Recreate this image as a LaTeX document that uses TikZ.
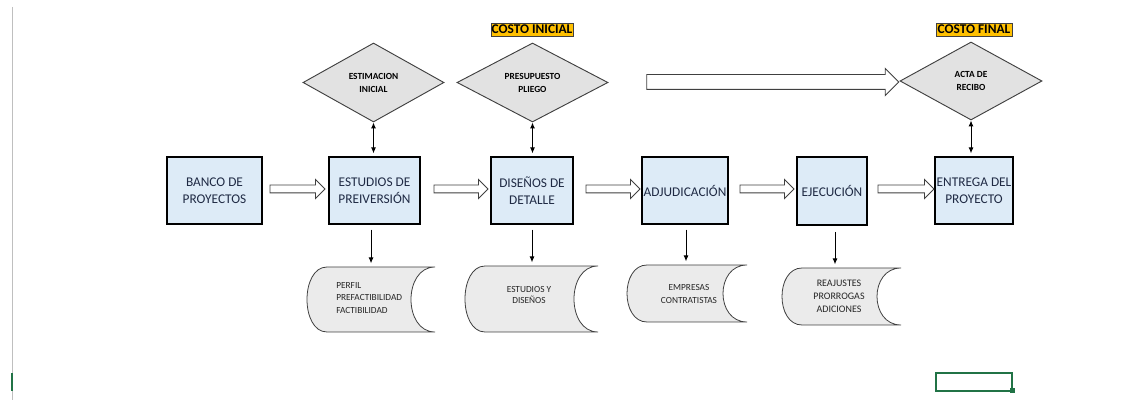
\documentclass[tikz,border=0pt]{standalone}
\usepackage{fontspec}
\setmainfont{Carlito}
\usetikzlibrary{shapes.geometric,shapes.arrows,arrows.meta}
\definecolor{boxfill}{HTML}{DDEBF7}
\definecolor{boxtext}{HTML}{1F2A44}
\definecolor{diafill}{HTML}{E2E2E2}
\definecolor{stdfill}{HTML}{EBEBEB}
\definecolor{costfill}{HTML}{FFC000}
\definecolor{excelgreen}{HTML}{217346}
\definecolor{edgegray}{HTML}{404040}
\newcommand{\stdata}[4]{%
  \draw[stdstyle] ({#1+20},#2) -- (#3,#2)
    .. controls ({#3-32},#2) and ({#3-32},#4) .. (#3,#4)
    -- ({#1+20},#4)
    .. controls ({#1-6.67},#4) and ({#1-6.67},#2) .. ({#1+20},#2) -- cycle;}
\begin{document}
\begin{tikzpicture}[x=0.75pt,y=-0.75pt,
  procbox/.style={draw=black, line width=1.4pt, fill=boxfill, text=boxtext,
    align=center, inner sep=1pt, font=\fontsize{10}{12.75}\selectfont, minimum height=50.25pt},
  decision/.style={diamond, draw=edgegray, line width=0.7pt, fill=diafill, inner sep=0pt,
    align=center, font=\bfseries\fontsize{7}{9.75}\selectfont, minimum height=59.25pt},
  costlabel/.style={draw=edgegray, line width=0.6pt, fill=costfill, inner sep=0pt,
    font=\bfseries\fontsize{10}{12}\selectfont, minimum height=9.75pt},
  blockarrow/.style={single arrow, draw=edgegray, line width=0.7pt, fill=white,
    inner xsep=0pt, inner ysep=2.625pt, single arrow head extend=4.125pt,
    single arrow head indent=0pt, minimum height=41.25pt},
  stdstyle/.style={draw=edgegray, line width=0.6pt, fill=stdfill},
  holder/.style={inner sep=0pt},
  stext/.style={inner sep=0pt, align=center, text=black!85, font=\fontsize{7}{9.5}\selectfont},
  thin arrow/.style={line width=0.75pt, -{Latex[length=4.5pt,width=3.8pt]}},
  both arrow/.style={line width=0.75pt, {Latex[length=4.5pt,width=3.8pt]}-{Latex[length=4.5pt,width=3.8pt]}}
]
\useasboundingbox (0,0) rectangle (1128,402);

% spreadsheet remnants
\draw[black!25, line width=1.1pt] (12.5,7) -- (12.5,400);
\fill[excelgreen] (10.8,373) rectangle (13.3,391);
\draw[excelgreen, line width=1.2pt] (936,373) rectangle (1012,391);
\fill[excelgreen] (1009.5,388.5) rectangle (1014.5,393.5);

% process boxes
\node[procbox, minimum width=71.25pt] (banco) at (214.5,190.5) {BANCO DE\\PROYECTOS};
\node[procbox, minimum width=68.25pt] (est) at (374.5,190.5) {ESTUDIOS DE\\PREIVERSIÓN};
\node[procbox, minimum width=61.5pt] (dis) at (532,190.5) {DISEÑOS DE\\DETALLE};
\node[procbox, minimum width=64.5pt] (adj) at (685,190.5) {ADJUDICACIÓN};
\node[procbox, minimum width=52.5pt, minimum height=51pt] (eje) at (832,191) {EJECUCIÓN};
\node[procbox, minimum width=57pt] (ent) at (974,190.5) {ENTREGA DEL\\PROYECTO};

% decisions
\node[decision, minimum width=105.75pt] (dest) at (373.5,82.5) {ESTIMACION\\INICIAL};
\node[decision, minimum width=113.25pt] (dpre) at (532.5,82.5) {PRESUPUESTO\\PLIEGO};
\node[decision, minimum width=106.5pt, minimum height=58.5pt] (dact) at (971,81) {ACTA DE\\RECIBO};

% cost labels
\node[costlabel, minimum width=61.5pt] (cini) at (532,29.5) {COSTO INICIAL};
\node[costlabel, minimum width=57pt] (cfin) at (974,29.5) {COSTO FINAL};

% block arrows
\node[blockarrow] (a1) at (295.5,189) {};
\node[blockarrow, minimum height=40.5pt] (a2) at (459,189) {};
\node[blockarrow, minimum height=40.5pt] (a3) at (611,189) {};
\node[blockarrow, minimum height=40.5pt] (a4) at (765,189) {};
\node[blockarrow, minimum height=42pt] (a5) at (904,189) {};
\node[blockarrow, minimum height=189pt, inner ysep=5.25pt, single arrow head extend=4.5pt] (abig) at (769,82) {};

% stored data shapes
\stdata{307}{267}{435}{332}
\node[holder, minimum width=96pt, minimum height=48.75pt] (s1) at (371,299.5) {};
\stdata{465}{266}{598}{332}
\node[holder, minimum width=99.75pt, minimum height=49.5pt] (s2) at (531.5,299) {};
\stdata{627}{265}{747}{322}
\node[holder, minimum width=90pt, minimum height=42.75pt] (s3) at (687,293.5) {};
\stdata{782}{268}{901}{325}
\node[holder, minimum width=89.25pt, minimum height=42.75pt] (s4) at (841.5,296.5) {};

\node[stext, align=left, anchor=west] (t1) at (336,298) {PERFIL\\PREFACTIBILIDAD\\FACTIBILIDAD};
\node[stext, font=\fontsize{7}{8.25}\selectfont] (t2) at (529,295) {ESTUDIOS Y\\DISEÑOS};
\node[stext] (t3) at (689,294) {EMPRESAS\\CONTRATISTAS};
\node[stext, font=\fontsize{7.5}{9.75}\selectfont] (t4) at (839,296) {REAJUSTES\\PRORROGAS\\ADICIONES};

% diamond <-> box arrows
\draw[both arrow, shorten >=2pt] (dest.south) -- (dest.south |- est.north);
\draw[both arrow, shorten >=2pt] (dpre.south) -- (dpre.south |- dis.north);
\draw[both arrow, shorten >=2pt] (dact.south) -- (dact.south |- ent.north);

% box -> stored data arrows
\draw[thin arrow, shorten <=3.5pt, shorten >=2.5pt] ([xshift=-2.6pt]est.south) -- ([xshift=-2.6pt]est.south |- s1.north);
\draw[thin arrow, shorten <=3.5pt, shorten >=2.5pt] (dis.south) -- (dis.south |- s2.north);
\draw[thin arrow, shorten <=3.5pt, shorten >=2.5pt] ([xshift=0.75pt]adj.south) -- ([xshift=0.75pt]adj.south |- s3.north);
\draw[thin arrow, shorten <=4.5pt, shorten >=2.5pt] ([xshift=2.25pt]eje.south) -- ([xshift=2.25pt]eje.south |- s4.north);
\end{tikzpicture}
\end{document}
